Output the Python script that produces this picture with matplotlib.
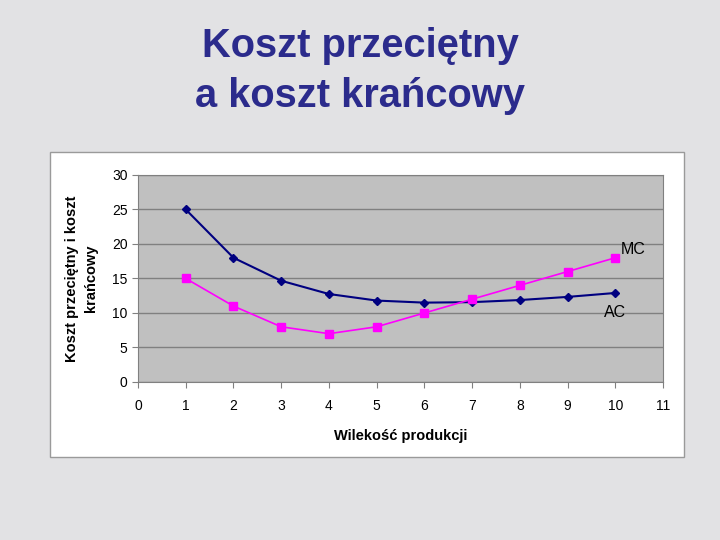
import matplotlib.pyplot as plt
from matplotlib.patches import Rectangle

# dane z wykresu
produkcja = [1, 2, 3, 4, 5, 6, 7, 8, 9, 10]
koszt_przecietny = [25, 18, 14.67, 12.75, 11.8, 11.5, 11.57, 11.875, 12.33, 12.9]
koszt_krancowy = [15, 11, 8, 7, 8, 10, 12, 14, 16, 18]
x_ticks = list(range(0, 12))
y_ticks = list(range(0, 35, 5))

plt.rcParams['font.family'] = ['Liberation Sans', 'DejaVu Sans']

fig = plt.figure(figsize=(7.2, 5.4), dpi=100)
fig.patch.set_facecolor('#e2e2e4')

# tytuł slajdu
fig.text(0.5, 0.915, 'Koszt przeciętny', ha='center', va='center',
         fontsize=28.7, fontweight='bold', color='#2b2b8c')
fig.text(0.5, 0.822, 'a koszt krańcowy', ha='center', va='center',
         fontsize=28.7, fontweight='bold', color='#2b2b8c')

# białe pole wykresu
ramka = Rectangle((0.0694, 0.1537), 0.8806, 0.5648,
                  transform=fig.transFigure, facecolor='white',
                  edgecolor='#9a9a9a', linewidth=1, zorder=-1)
fig.add_artist(ramka)

ax = fig.add_axes([0.1917, 0.2926, 0.7291, 0.3834])
ax.set_zorder(2)
ax.set_facecolor('#c0c0c0')

ax.plot(produkcja, koszt_przecietny, color='#000080', marker='D',
        markersize=4.5, linewidth=1.5, clip_on=False, zorder=3)
ax.plot(produkcja, koszt_krancowy, color='#ff00ff', marker='s',
        markersize=5.5, linewidth=1.2, clip_on=False, zorder=3)

ax.text(10.12, 19.2, 'MC', fontsize=11.5, ha='left', va='center')
ax.text(10.0, 10.0, 'AC', fontsize=11.5, ha='center', va='center')

ax.set_xlim(0, 11)
ax.set_ylim(0, 30)
ax.set_xticks(x_ticks)
ax.set_yticks(y_ticks)
ax.yaxis.grid(True, color='#808080', linewidth=1)
ax.set_axisbelow(True)

for side in ['top', 'right', 'left', 'bottom']:
    ax.spines[side].set_color('#808080')

ax.tick_params(axis='both', labelsize=10, color='#808080', length=4)
ax.tick_params(axis='x', pad=8)

ax.set_xlabel('Wilekość produkcji', fontsize=10.5, fontweight='bold', labelpad=12)
ax.set_ylabel('Koszt przeciętny i koszt\nkrańcowy', fontsize=10.5,
              fontweight='bold', labelpad=10, linespacing=1.45)

fig.savefig('out.png', dpi=100, facecolor=fig.get_facecolor())
